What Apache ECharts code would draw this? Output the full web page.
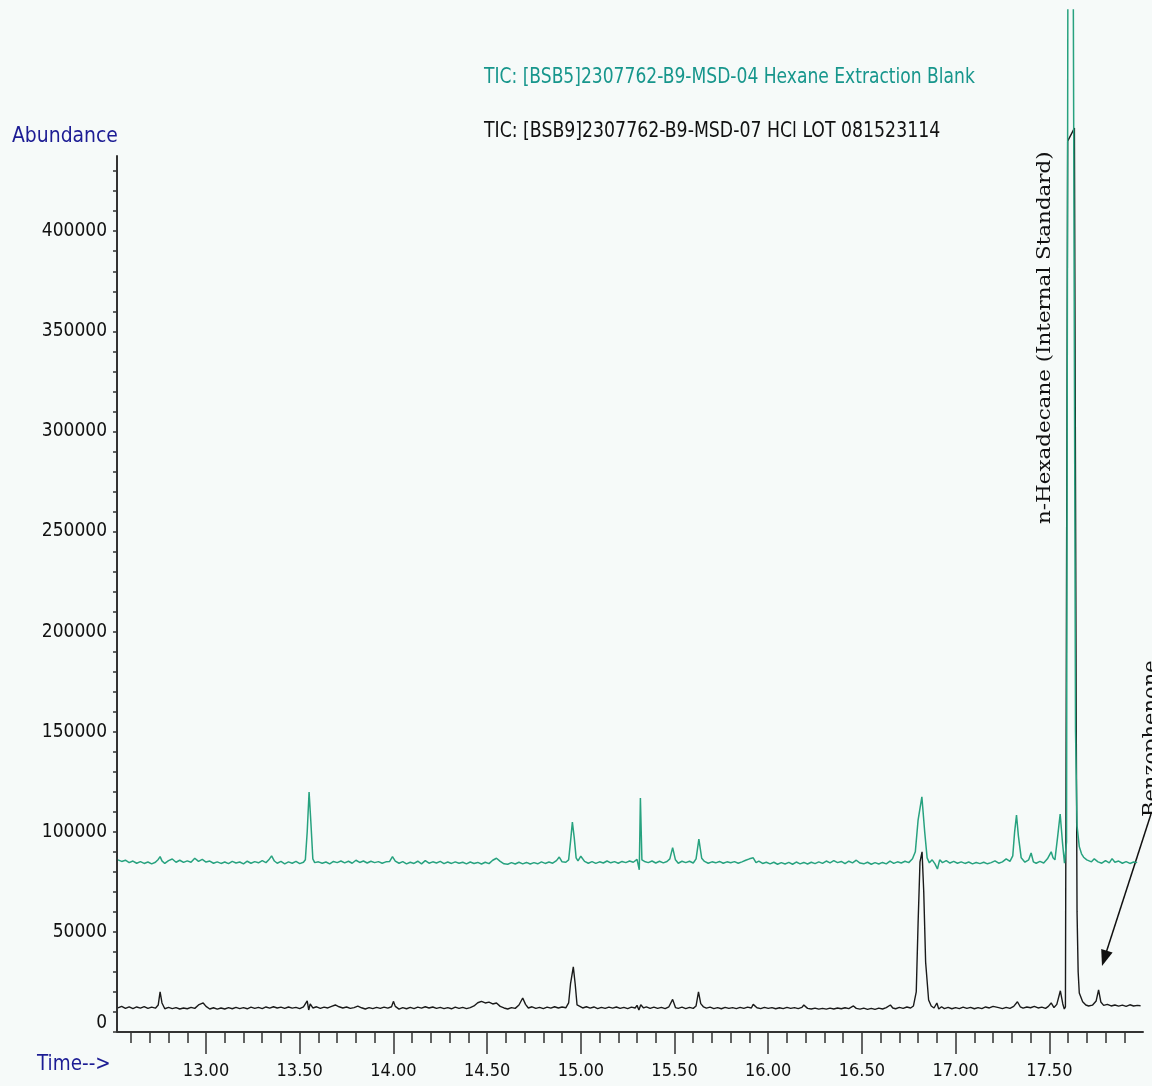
<!DOCTYPE html>
<html>
<head>
<meta charset="utf-8">
<script src="https://cdn.jsdelivr.net/npm/echarts@6/dist/echarts.min.js"></script>
<style>
html,body{margin:0;padding:0;background:#f6faf9;}
#chart{width:1152px;height:1086px;}
</style>
</head>
<body>
<div id="chart"></div>
<script>
// ---- data (retention time in min, abundance) ----
const blankName = 'TIC: [BSB5]2307762-B9-MSD-04 Hexane Extraction Blank';
const sampleName = 'TIC: [BSB9]2307762-B9-MSD-07 HCl LOT 081523114';

const blankTrace = [
[12.53,86000],[12.55,85200],[12.57,85800],[12.59,84600],[12.61,85400],[12.63,84300],[12.65,85100],[12.67,84200],[12.69,84900],[12.71,84000],
[12.73,84800],[12.745,86200],[12.755,87600],[12.765,85500],[12.78,84200],[12.80,85600],[12.82,86400],[12.84,84800],[12.86,85800],[12.88,84700],
[12.90,85500],[12.92,84800],[12.94,86800],[12.96,85200],[12.98,86200],[13.00,84900],[13.02,85400],[13.04,84300],[13.06,85000],[13.08,84200],
[13.10,84900],[13.12,84100],[13.14,85200],[13.16,84400],[13.18,84900],[13.20,84000],[13.22,85300],[13.24,84300],[13.26,85100],[13.28,84500],
[13.30,85600],[13.32,84600],[13.335,86000],[13.35,88000],[13.365,85400],[13.38,84300],[13.40,85200],[13.42,84000],[13.44,85000],[13.46,84300],
[13.48,85200],[13.50,84100],[13.52,84800],[13.53,86000],[13.54,100000],[13.55,119900],[13.56,104000],[13.57,86500],[13.58,84600],[13.60,85000],
[13.62,84300],[13.64,84900],[13.66,84000],[13.68,85200],[13.70,84600],[13.72,85400],[13.74,84500],[13.76,85300],[13.78,84300],[13.80,85800],
[13.82,84700],[13.84,85400],[13.86,84400],[13.88,85300],[13.90,84600],[13.92,85100],[13.94,84300],[13.96,85000],[13.98,85200],[13.995,87600],
[14.01,85400],[14.03,84300],[14.05,85100],[14.07,84000],[14.09,84800],[14.11,84200],[14.13,85300],[14.15,84000],[14.17,85600],[14.19,84300],
[14.21,85000],[14.23,84400],[14.25,85200],[14.27,84100],[14.29,84900],[14.31,84200],[14.33,85000],[14.35,84300],[14.37,84800],[14.39,84000],
[14.41,84900],[14.43,84200],[14.45,84700],[14.47,83900],[14.49,84800],[14.51,84100],[14.53,85800],[14.55,86800],[14.57,85200],[14.59,84000],
[14.61,83800],[14.63,84600],[14.65,83900],[14.67,84800],[14.69,84000],[14.71,84700],[14.73,83900],[14.75,84600],[14.77,84000],[14.79,85000],
[14.81,84200],[14.83,84900],[14.85,84300],[14.87,85600],[14.885,87400],[14.90,85000],[14.92,84800],[14.935,86000],[14.945,95000],[14.955,104800],
[14.965,97000],[14.975,87000],[14.985,85500],[15.00,87800],[15.02,85200],[15.04,84300],[15.06,85100],[15.08,84200],[15.10,85000],[15.12,84400],
[15.14,85400],[15.16,84500],[15.18,85100],[15.20,84300],[15.22,85200],[15.24,84600],[15.26,85400],[15.28,84800],[15.30,86200],[15.312,81000],
[15.318,116900],[15.326,86000],[15.34,85200],[15.36,84600],[15.38,85400],[15.40,84400],[15.42,85300],[15.44,84500],[15.46,85200],[15.475,86500],
[15.49,92100],[15.505,86000],[15.52,84300],[15.54,85300],[15.56,84600],[15.58,85300],[15.60,84400],[15.615,86500],[15.63,96300],[15.645,86800],
[15.66,85200],[15.68,84300],[15.70,85000],[15.72,84500],[15.74,85200],[15.76,84300],[15.78,85000],[15.80,84500],[15.82,85100],[15.84,84300],
[15.86,85000],[15.88,85800],[15.90,86500],[15.92,87000],[15.935,84600],[15.95,85400],[15.97,84200],[15.99,84800],[16.01,84000],[16.03,84800],
[16.05,83800],[16.07,84600],[16.09,83900],[16.11,84700],[16.13,83800],[16.15,84900],[16.17,84000],[16.19,84700],[16.21,83900],[16.23,84800],
[16.25,84100],[16.27,85000],[16.29,84200],[16.31,85400],[16.33,84500],[16.35,85600],[16.37,84600],[16.39,85200],[16.41,84100],[16.43,85300],
[16.45,84500],[16.47,85800],[16.49,84400],[16.51,84000],[16.53,84800],[16.55,83800],[16.57,84600],[16.59,83900],[16.61,84700],[16.63,84000],
[16.65,85400],[16.67,84200],[16.69,85000],[16.71,84400],[16.73,85300],[16.75,84600],[16.77,86500],[16.785,90000],[16.80,106000],[16.82,117500],
[16.835,100000],[16.848,87000],[16.86,84500],[16.875,86000],[16.89,84000],[16.903,81400],[16.915,86000],[16.93,84600],[16.95,85600],[16.97,84400],
[16.99,85200],[17.01,84300],[17.03,85000],[17.05,84200],[17.07,84900],[17.09,84000],[17.11,84700],[17.13,84100],[17.15,84800],[17.17,84000],
[17.19,84600],[17.21,85500],[17.23,84300],[17.25,85000],[17.27,86500],[17.29,85200],[17.305,88000],[17.315,100000],[17.325,108400],[17.335,98000],
[17.35,87000],[17.37,84800],[17.39,86000],[17.403,89400],[17.415,85000],[17.43,84300],[17.45,85200],[17.47,84400],[17.49,86500],[17.51,90000],
[17.52,87000],[17.53,86000],[17.545,98000],[17.558,108900],[17.57,95000],[17.581,84300],[17.592,95000],[17.599,520000],[17.613,900000],[17.628,520000],
[17.640,150000],[17.648,103000],[17.66,92600],[17.672,89000],[17.683,87300],[17.70,86000],[17.725,85000],[17.74,86500],[17.76,85000],[17.78,84300],
[17.80,85600],[17.82,84500],[17.835,86600],[17.85,84800],[17.87,85400],[17.89,84300],[17.91,85100],[17.93,84200],[17.95,84900],[17.969,84600]
];

const sampleTrace = [
[12.53,12000],[12.55,12800],[12.57,11800],[12.59,12600],[12.61,11700],[12.63,12500],[12.65,11900],[12.67,12700],[12.69,11800],[12.71,12400],
[12.73,11900],[12.745,13500],[12.755,20000],[12.765,14500],[12.78,11600],[12.80,12300],[12.82,11700],[12.84,12200],[12.86,11500],[12.88,12000],
[12.90,11600],[12.92,12300],[12.94,11800],[12.96,13500],[12.985,14500],[13.00,12800],[13.02,11500],[13.04,12100],[13.06,11400],[13.08,12000],
[13.10,11500],[13.12,12200],[13.14,11600],[13.16,12300],[13.18,11700],[13.20,12200],[13.22,11600],[13.24,12400],[13.26,11800],[13.28,12300],
[13.30,11700],[13.32,12500],[13.34,11900],[13.36,12600],[13.38,12000],[13.40,12400],[13.42,11800],[13.44,12500],[13.46,11900],[13.48,12300],
[13.50,11700],[13.52,12600],[13.54,15500],[13.548,11000],[13.556,14000],[13.57,12000],[13.59,12600],[13.61,11800],[13.63,12400],[13.65,12000],
[13.67,12800],[13.69,13500],[13.71,12600],[13.73,12000],[13.75,12500],[13.77,11800],[13.79,12200],[13.81,12900],[13.83,12100],[13.85,11500],
[13.87,12200],[13.89,11700],[13.91,12300],[13.93,11800],[13.95,12400],[13.97,11900],[13.99,12600],[14.00,15300],[14.01,12800],[14.03,11400],
[14.05,12200],[14.07,11600],[14.09,12300],[14.11,11700],[14.13,12400],[14.15,11900],[14.17,12600],[14.19,12000],[14.21,12500],[14.23,11800],
[14.25,12300],[14.27,11700],[14.29,12200],[14.31,11600],[14.33,12400],[14.35,11800],[14.37,12300],[14.39,11700],[14.41,12200],[14.43,13000],
[14.45,14600],[14.47,15300],[14.49,14500],[14.51,14900],[14.53,14000],[14.55,14500],[14.57,12800],[14.59,12000],[14.61,11500],[14.63,12200],
[14.65,11800],[14.67,13500],[14.69,17000],[14.705,13800],[14.72,12000],[14.74,12600],[14.76,11800],[14.78,12300],[14.80,11700],[14.82,12400],
[14.84,11900],[14.86,12600],[14.88,12000],[14.90,12500],[14.92,12100],[14.935,14500],[14.945,24000],[14.96,32500],[14.97,24000],[14.98,13500],
[14.995,12800],[15.01,12000],[15.03,12600],[15.05,11900],[15.07,12500],[15.09,11700],[15.11,12300],[15.13,11800],[15.15,12400],[15.17,11900],
[15.19,12500],[15.21,11800],[15.23,12300],[15.25,11700],[15.27,12400],[15.29,12000],[15.30,13300],[15.31,11000],[15.32,13600],[15.335,12000],
[15.35,12600],[15.37,11800],[15.39,12400],[15.41,11800],[15.43,12300],[15.45,11700],[15.47,12600],[15.49,16300],[15.505,12200],[15.52,11800],
[15.54,12400],[15.56,11700],[15.58,12300],[15.60,11800],[15.615,13000],[15.628,20100],[15.64,14200],[15.655,12500],[15.67,11900],[15.69,12400],
[15.71,11700],[15.73,12200],[15.75,11600],[15.77,12300],[15.79,11800],[15.81,12200],[15.83,11700],[15.85,12300],[15.87,11800],[15.89,12400],
[15.91,12000],[15.92,13800],[15.94,12100],[15.96,11700],[15.98,12300],[16.00,11800],[16.02,12200],[16.04,11600],[16.06,12100],[16.08,11700],
[16.10,12300],[16.12,11800],[16.14,12200],[16.16,11700],[16.18,12300],[16.19,13500],[16.21,11800],[16.23,11500],[16.25,11900],[16.27,11400],
[16.29,11800],[16.31,11400],[16.33,11900],[16.35,11500],[16.37,12000],[16.39,11600],[16.41,12100],[16.43,11700],[16.455,13000],[16.47,11800],
[16.49,11400],[16.51,11900],[16.53,11300],[16.55,11800],[16.57,11300],[16.59,11900],[16.61,11500],[16.63,12200],[16.652,13500],[16.665,12000],
[16.68,11600],[16.70,12300],[16.72,11800],[16.74,12500],[16.76,12000],[16.775,13000],[16.79,20000],[16.80,55000],[16.81,85000],[16.821,90000],
[16.83,70000],[16.84,35000],[16.856,16000],[16.87,13000],[16.885,12000],[16.90,14500],[16.91,11500],[16.925,12600],[16.94,11700],[16.96,12300],
[16.98,11600],[17.00,12200],[17.02,11700],[17.04,12400],[17.06,11800],[17.08,12300],[17.10,11600],[17.12,12200],[17.14,11700],[17.16,12500],
[17.18,12000],[17.20,12800],[17.21,13200],[17.23,12200],[17.25,11700],[17.27,12300],[17.29,11800],[17.31,12800],[17.33,15100],[17.345,12600],
[17.36,11900],[17.38,12500],[17.40,12100],[17.42,12800],[17.44,12000],[17.46,12400],[17.48,11800],[17.495,12800],[17.51,14500],[17.525,12200],
[17.54,13800],[17.559,20600],[17.572,14000],[17.58,11500],[17.586,12500],[17.598,445000],[17.634,451500],[17.644,150000],[17.648,60000],[17.654,30000],
[17.660,19500],[17.678,15100],[17.695,13500],[17.71,13000],[17.73,13400],[17.75,15500],[17.763,21000],[17.775,15000],[17.79,13300],[17.81,13800],
[17.83,13000],[17.85,13500],[17.87,12900],[17.89,13400],[17.91,12800],[17.93,13600],[17.95,13000],[17.97,13300],[17.987,13100]
];

const xMajorTicks = [13.0,13.5,14.0,14.5,15.0,15.5,16.0,16.5,17.0,17.5];
const xMinorTicks = [12.6,12.7,12.8,12.9,13.0,13.1,13.2,13.3,13.4,13.5,13.6,13.7,13.8,13.9,14.0,14.1,14.2,14.3,14.4,14.5,14.6,14.7,14.8,14.9,15.0,15.1,15.2,15.3,15.4,15.5,15.6,15.7,15.8,15.9,16.0,16.1,16.2,16.3,16.4,16.5,16.6,16.7,16.8,16.9,17.0,17.1,17.2,17.3,17.4,17.5,17.6,17.7,17.8,17.9];
const yLabelValues = [0,50000,100000,150000,200000,250000,300000,350000,400000];
const yTickValues = [0,10000,20000,30000,40000,50000,60000,70000,80000,90000,100000,110000,120000,130000,140000,150000,160000,170000,180000,190000,200000,210000,220000,230000,240000,250000,260000,270000,280000,290000,300000,310000,320000,330000,340000,350000,360000,370000,380000,390000,400000,410000,420000,430000];

const X_MIN = 12.525, X_MAX = 18.0, Y_MAX = 510500, Y_AXIS_TOP = 438000;

const narrow = "'DejaVu Sans Condensed', sans-serif";
const navy = '#1c1c94';
const tealLine = '#27a27f';
const tealText = '#17968c';

const chart = echarts.init(document.getElementById('chart'), null, {renderer: 'canvas'});

const baseAxis = {
  type: 'value', min: X_MIN, max: X_MAX, position: 'bottom', gridIndex: 0,
  splitLine: {show: false}
};

chart.setOption({
  backgroundColor: '#f6faf9',
  animation: false,
  grid: {left: 117, right: 9, top: 10, bottom: 54, containLabel: false},
  xAxis: [
    Object.assign({}, baseAxis, {
      axisLine: {show: true, lineStyle: {color: '#333', width: 2}},
      axisTick: {show: true, customValues: xMinorTicks, length: 11, lineStyle: {color: '#333', width: 1.5}},
      axisLabel: {show: false}
    }),
    Object.assign({}, baseAxis, {
      axisLine: {show: false},
      axisTick: {show: true, customValues: xMajorTicks, length: 22, lineStyle: {color: '#333', width: 1.5}},
      axisLabel: {show: true, customValues: xMajorTicks, margin: 30, color: '#111',
        fontFamily: narrow, fontSize: 18, formatter: v => v.toFixed(2)}
    })
  ],
  yAxis: {
    type: 'value', min: 0, max: Y_MAX,
    axisLine: {show: false},
    splitLine: {show: false},
    axisTick: {show: true, customValues: yTickValues, length: 4, lineStyle: {color: '#333', width: 1.5}},
    axisLabel: {show: true, customValues: yLabelValues, margin: 10, color: '#111',
      fontFamily: narrow, fontSize: 19,
      formatter: v => v === 0 ? '{z|0}' : String(v),
      rich: {z: {fontFamily: narrow, fontSize: 19, color: '#111', padding: [0, 0, 18, 0]}}}
  },
  series: [
    {
      name: sampleName, type: 'line', xAxisIndex: 0, data: sampleTrace,
      showSymbol: false, symbol: 'none', z: 2,
      lineStyle: {color: '#1a1a1a', width: 1.4}, itemStyle: {color: '#1a1a1a'},
      markLine: {
        silent: true, symbol: 'none', animation: false, label: {show: false},
        lineStyle: {color: '#333', width: 2, type: 'solid'},
        data: [[{coord: [X_MIN, 0]}, {coord: [X_MIN, Y_AXIS_TOP]}]]
      }
    },
    {
      name: blankName, type: 'line', xAxisIndex: 0, data: blankTrace,
      showSymbol: false, symbol: 'none', z: 3,
      lineStyle: {color: tealLine, width: 1.5}, itemStyle: {color: tealLine}
    }
  ],
  graphic: [
    {type: 'text', x: 484, y: 77, scaleX: 0.865,
      style: {text: blankName, fill: tealText, font: '22px ' + narrow, textAlign: 'left', textVerticalAlign: 'middle'}},
    {type: 'text', x: 484, y: 131, scaleX: 0.875,
      style: {text: sampleName, fill: '#111', font: '22px ' + narrow, textAlign: 'left', textVerticalAlign: 'middle'}},
    {type: 'text', x: 12, y: 136, scaleX: 0.95,
      style: {text: 'Abundance', fill: navy, font: '22px ' + narrow, textAlign: 'left', textVerticalAlign: 'middle'}},
    {type: 'text', x: 37, y: 1064, scaleX: 0.93,
      style: {text: 'Time-->', fill: navy, font: '22px ' + narrow, textAlign: 'left', textVerticalAlign: 'middle'}},
    {type: 'text', x: 1045, y: 524, rotation: Math.PI / 2, scaleX: 1.19,
      style: {text: 'n-Hexadecane (Internal Standard)', fill: '#111', font: '18px "DejaVu Serif", serif',
        textAlign: 'left', textVerticalAlign: 'middle'}},
    {type: 'text', x: 1141, y: 817, rotation: Math.PI / 2,
      style: {text: 'Benzophenone', fill: '#111', font: '21px "DejaVu Serif", serif',
        textAlign: 'left', textVerticalAlign: 'top'}},
    {type: 'line', shape: {x1: 1151, y1: 814, x2: 1106, y2: 953}, style: {stroke: '#111', lineWidth: 1.5}},
    {type: 'polygon', shape: {points: [[1102, 966], [1112.6, 952.6], [1101.2, 949.0]]}, style: {fill: '#111'}}
  ]
});
</script>
</body>
</html>
